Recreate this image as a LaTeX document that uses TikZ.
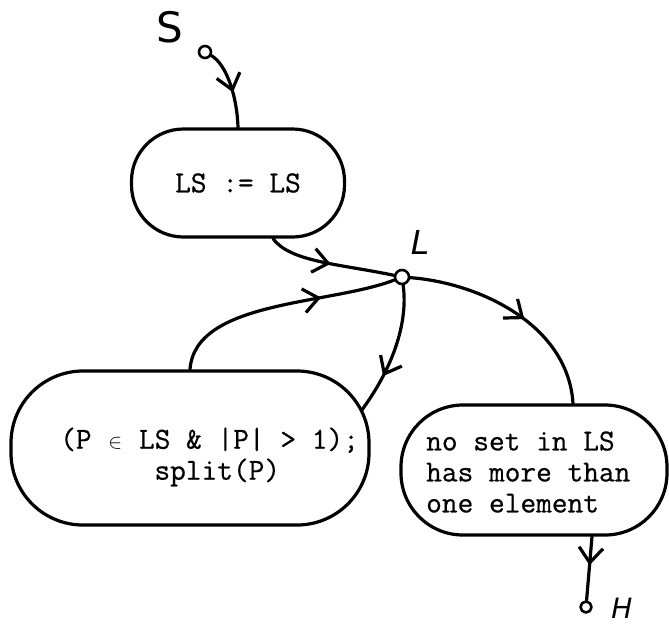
\documentclass[tikz,border=0pt]{standalone}
\usepackage{fontspec}
\newfontfamily\hand{DejaVu Sans}
\newfontfamily\typew[FakeBold=0.6]{Latin Modern Mono}
\usetikzlibrary{arrows.meta,decorations.markings}
\begin{document}
\begin{tikzpicture}[x=1pt,y=-1pt,line cap=round,line join=round,
  blob/.style={draw, line width=3.2pt, rounded corners=#1, inner sep=0pt},
  mtext/.style={font=\typew\fontsize{30.5}{31}\selectfont, align=left, inner sep=0pt},
  port/.style={circle, draw, line width=2.6pt, inner sep=0pt, minimum size=#1},
  handup/.style={font=\hand\fontsize{#1}{#1}\selectfont, inner sep=0pt},
  handit/.style={font=\hand\itshape\fontsize{#1}{#1}\selectfont, inner sep=0pt},
  conn/.style={line width=3.2pt, postaction={decorate},
    decoration={markings, mark=at position #1 with {\arrow{Straight Barb[length=15pt,width=24pt]}}}},
]
\useasboundingbox (0,0) rectangle (669,625);

% nodes
\node[handup=42] (sl) at (170,27) {S};
\node[port=12pt] (sc) at (205,52) {};
\node[blob=52pt, minimum width=213pt, minimum height=108pt, mtext] (ls) at (238,183) {LS := LS};
\node[handit=33] (ll) at (420,242) {L};
\node[port=14pt] (lc) at (402,277) {};
\node[blob=72pt, minimum width=358pt, minimum height=154pt] (lp) at (190,448) {};
\node[mtext, anchor=west] (lpt) at (60,457) {(P \makebox[0.525em]{\fontsize{20}{20}\selectfont$\in$} LS \& |P| > 1);\\\phantom{xxxxxx}split(P)};
\node[blob=62pt, minimum width=266pt, minimum height=130pt] (rb) at (534,470) {};
\node[mtext, anchor=west] (rbt) at (426,472) {no set in LS\\has more than\\one element};
\node[port=11pt] (hc) at (586,607) {};
\node[handit=28] (hl) at (622,608) {H};

% connectors
\draw[conn=0.55] (sc) .. controls (226,64) and (237,95) .. (ls.north);
\draw[conn=0.5] ([xshift=35pt]ls.south) .. controls (290,262) and (340,264) .. (lc);
\draw[conn=0.68] (lp.north) .. controls (195,300) and (330,305) .. (lc);
\draw[conn=0.7] (lc) .. controls (408,320) and (395,365) .. ([xshift=-9pt,yshift=-41pt]lp.north east);
\draw[conn=0.55] (lc) .. controls (480,283) and (568,325) .. ([xshift=39pt]rb.north);
\draw[conn=0.45] ([xshift=58pt]rb.south) -- (hc);
\end{tikzpicture}
\end{document}
